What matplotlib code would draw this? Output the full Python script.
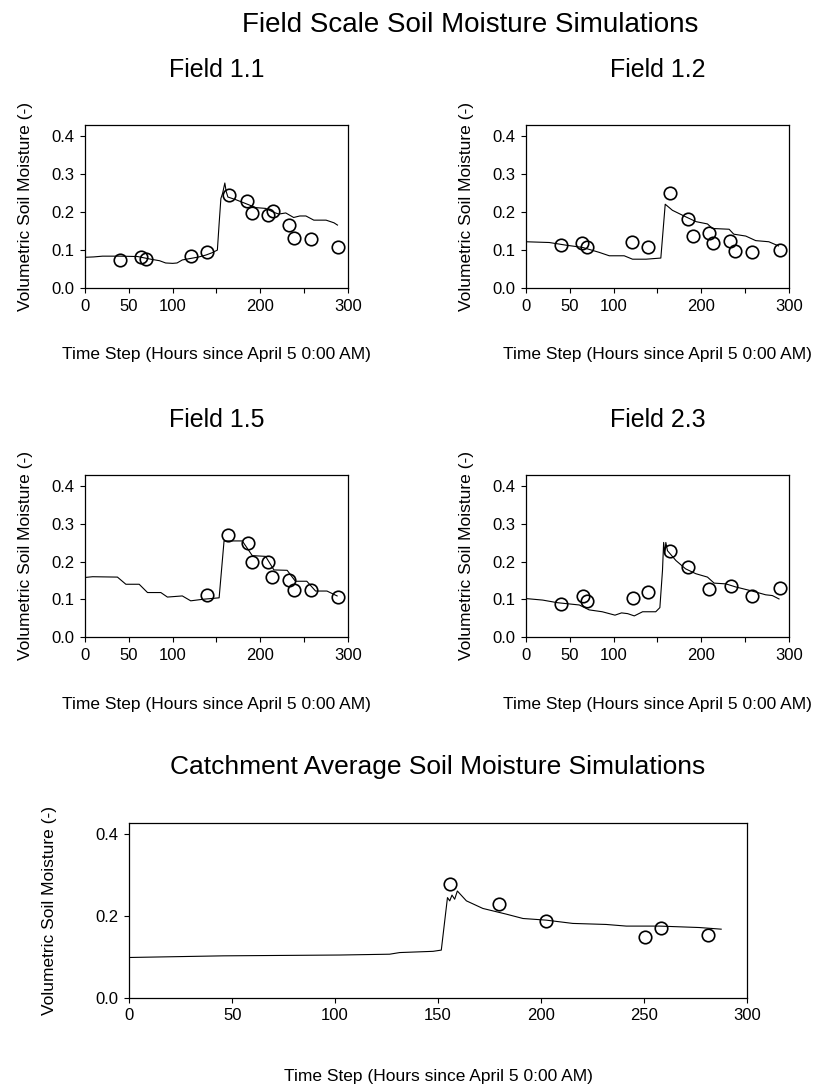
import matplotlib
matplotlib.use("Agg")
import matplotlib.pyplot as plt
import numpy as np

plt.rcParams['font.family'] = ['Liberation Sans', 'DejaVu Sans']

# ---------------- data ----------------
# Field 1.1
f11_obs_t = [40, 64, 70, 121, 139, 164, 185, 190, 209, 214, 233, 238, 258, 289]
f11_obs_v = [0.073, 0.083, 0.076, 0.085, 0.094, 0.245, 0.229, 0.198, 0.192, 0.203, 0.165, 0.133, 0.130, 0.107]
f11_mod_t = [0, 10, 20, 40, 60, 75, 85, 92, 100, 105, 111, 123, 130, 138, 145, 151, 153, 155, 157, 159.5, 161, 163,
             172, 183, 195, 206, 215, 221, 229, 238, 245, 252, 261, 275, 284, 288]
f11_mod_v = [0.081, 0.082, 0.084, 0.084, 0.083, 0.076, 0.072, 0.066, 0.065, 0.066, 0.074, 0.079, 0.082, 0.087, 0.093,
             0.100, 0.17, 0.236, 0.25, 0.277, 0.255, 0.240, 0.233, 0.223, 0.212, 0.210, 0.200, 0.195, 0.198, 0.186,
             0.190, 0.190, 0.179, 0.179, 0.172, 0.166]

# Field 1.2
f12_obs_t = [40, 64, 69.5, 121, 138.6, 163.7, 185, 190, 208.5, 213.8, 232.4, 238, 258, 289.4]
f12_obs_v = [0.1135, 0.118, 0.109, 0.122, 0.107, 0.2515, 0.1825, 0.137, 0.144, 0.120, 0.124, 0.098, 0.096, 0.099]
f12_mod_t = [0, 26.6, 45.6, 64.6, 83.5, 95, 112, 121.5, 137, 153.8, 158.8, 167, 182, 194, 207, 212.7, 231.7, 237,
             250.7, 262, 277, 288]
f12_mod_v = [0.122, 0.120, 0.113, 0.107, 0.094, 0.085, 0.085, 0.076, 0.076, 0.079, 0.221, 0.205, 0.188, 0.175,
             0.169, 0.157, 0.155, 0.142, 0.137, 0.125, 0.122, 0.111]

# Field 1.5
f15_obs_t = [138.8, 163.5, 185.5, 190, 208.6, 213.6, 232.5, 238.2, 258, 289]
f15_obs_v = [0.112, 0.272, 0.250, 0.200, 0.200, 0.159, 0.152, 0.126, 0.126, 0.107]
f15_mod_t = [0, 8.7, 37, 46.6, 61.8, 71.3, 86.5, 94, 111, 120.6, 134, 153, 158.6, 179.4, 190.8, 206, 215.5, 230.6,
             240, 253, 263, 276, 287.6]
f15_mod_v = [0.158, 0.160, 0.159, 0.140, 0.140, 0.118, 0.118, 0.106, 0.109, 0.096, 0.100, 0.104, 0.255, 0.255,
             0.216, 0.214, 0.178, 0.177, 0.148, 0.148, 0.122, 0.122, 0.109]

# Field 2.3
f23_obs_t = [39.9, 64.6, 69.5, 121.5, 138.6, 164, 185, 209, 233.3, 258, 289.8]
f23_obs_v = [0.0875, 0.110, 0.096, 0.104, 0.120, 0.228, 0.1855, 0.1286, 0.136, 0.108, 0.131]
f23_mod_t = [0, 19, 36, 60.8, 72, 87, 101.5, 109, 116, 123.5, 133, 148, 152.7, 155.7, 157, 158.4, 159.5, 161.4,
             171, 182, 193.7, 207, 214.6, 228, 239, 258, 273.4, 281, 288.6]
f23_mod_v = [0.102, 0.098, 0.091, 0.085, 0.072, 0.067, 0.058, 0.064, 0.062, 0.056, 0.067, 0.067, 0.078, 0.177,
             0.251, 0.221, 0.251, 0.229, 0.203, 0.181, 0.168, 0.159, 0.143, 0.141, 0.133, 0.122, 0.112, 0.110, 0.101]

# Catchment average
cat_obs_t = [155.7, 179.6, 202.3, 250.7, 258.6, 281.4]
cat_obs_v = [0.2766, 0.228, 0.187, 0.148, 0.171, 0.1525]
cat_mod_t = [0, 45.6, 102.3, 126.5, 131.4, 147.6, 151.6, 154.6, 155.7, 156.8, 158.1, 159.4, 163.8, 171.8, 183.2,
             191.3, 202.6, 215.5, 231.7, 241.5, 257.6, 277, 287.6]
cat_mod_v = [0.098, 0.102, 0.104, 0.106, 0.110, 0.113, 0.116, 0.244, 0.236, 0.250, 0.240, 0.260, 0.236, 0.2175,
             0.2036, 0.193, 0.189, 0.181, 0.1785, 0.1745, 0.1745, 0.171, 0.167]

field_names = ["Field 1.1", "Field 1.2", "Field 1.5", "Field 2.3"]
field_data = [
    (f11_obs_t, f11_obs_v, f11_mod_t, f11_mod_v),
    (f12_obs_t, f12_obs_v, f12_mod_t, f12_mod_v),
    (f15_obs_t, f15_obs_v, f15_mod_t, f15_mod_v),
    (f23_obs_t, f23_obs_v, f23_mod_t, f23_mod_v),
]

main_title = "Field Scale Soil Moisture Simulations"
cat_title = "Catchment Average Soil Moisture Simulations"
xlabel = "Time Step (Hours since April 5 0:00 AM)"
ylabel = "Volumetric Soil Moisture (-)"

field_xticks = [0, 50, 100, 150, 200, 250, 300]
field_xticklabels = ["0", "50", "100", "", "200", "", "300"]
field_yticks = [0.0, 0.1, 0.2, 0.3, 0.4]
cat_xticks = [0, 50, 100, 150, 200, 250, 300]
cat_yticks = [0.0, 0.2, 0.4]

# ---------------- layout ----------------
W, H = 820, 1088
fig = plt.figure(figsize=(W / 100, H / 100), dpi=100)

def px_axes(l, t, r, b):
    return fig.add_axes([l / W, 1 - b / H, (r - l) / W, (b - t) / H])

TICK_FS = 12
LABEL_FS = 12.5

def style(ax):
    for s in ax.spines.values():
        s.set_linewidth(0.9)
        s.set_color('black')
    ax.tick_params(direction='out', length=3.6, width=0.8, labelsize=TICK_FS, pad=4)

boxes = [(85, 125, 348, 288), (526, 125, 789, 288), (85, 475, 348, 637), (526, 475, 789, 637)]
title_base = [77, 77, 427, 427]
xlabel_base = [359, 359, 709, 709]

for (l, t, r, b), name, (ot, ov, mt, mv), tb, xb in zip(boxes, field_names, field_data, title_base, xlabel_base):
    ax = px_axes(l, t, r, b)
    ax.plot(mt, mv, color='black', lw=0.8)
    ax.plot(ot, ov, linestyle='none', marker='o', markersize=9, markerfacecolor='none',
            markeredgecolor='black', markeredgewidth=1.2)
    ax.set_xlim(0, 300)
    ax.set_ylim(0, 0.43)
    ax.set_xticks(field_xticks)
    ax.set_xticklabels(field_xticklabels)
    ax.set_yticks(field_yticks)
    ax.set_yticklabels([f"{v:.1f}" for v in field_yticks])
    style(ax)
    cx = (l + r) / 2
    fig.text(cx / W, 1 - tb / H, name, ha='center', va='baseline', fontsize=18)
    fig.text(cx / W, 1 - xb / H, xlabel, ha='center', va='baseline', fontsize=LABEL_FS)
    fig.text((l - 59) / W, 1 - ((t + b) / 2) / H, ylabel, rotation=90, ha='center', va='center',
             fontsize=LABEL_FS)

fig.text(470 / W, 1 - 32 / H, main_title, ha='center', va='baseline', fontsize=20)

# catchment
l, t, r, b = 129.3, 823.3, 746.7, 997.7
ax = px_axes(l, t, r, b)
ax.plot(cat_mod_t, cat_mod_v, color='black', lw=0.8)
ax.plot(cat_obs_t, cat_obs_v, linestyle='none', marker='o', markersize=9, markerfacecolor='none',
        markeredgecolor='black', markeredgewidth=1.2)
ax.set_xlim(0, 300)
ax.set_ylim(0, 0.425)
ax.set_xticks(cat_xticks)
ax.set_yticks(cat_yticks)
ax.set_yticklabels([f"{v:.1f}" for v in cat_yticks])
style(ax)
cx = (l + r) / 2
fig.text(cx / W, 1 - 774 / H, cat_title, ha='center', va='baseline', fontsize=19)
fig.text(cx / W, 1 - 1081 / H, xlabel, ha='center', va='baseline', fontsize=LABEL_FS)
fig.text(50 / W, 1 - ((t + b) / 2) / H, ylabel, rotation=90, ha='center', va='center', fontsize=LABEL_FS)

fig.savefig("out.png", dpi=100)
